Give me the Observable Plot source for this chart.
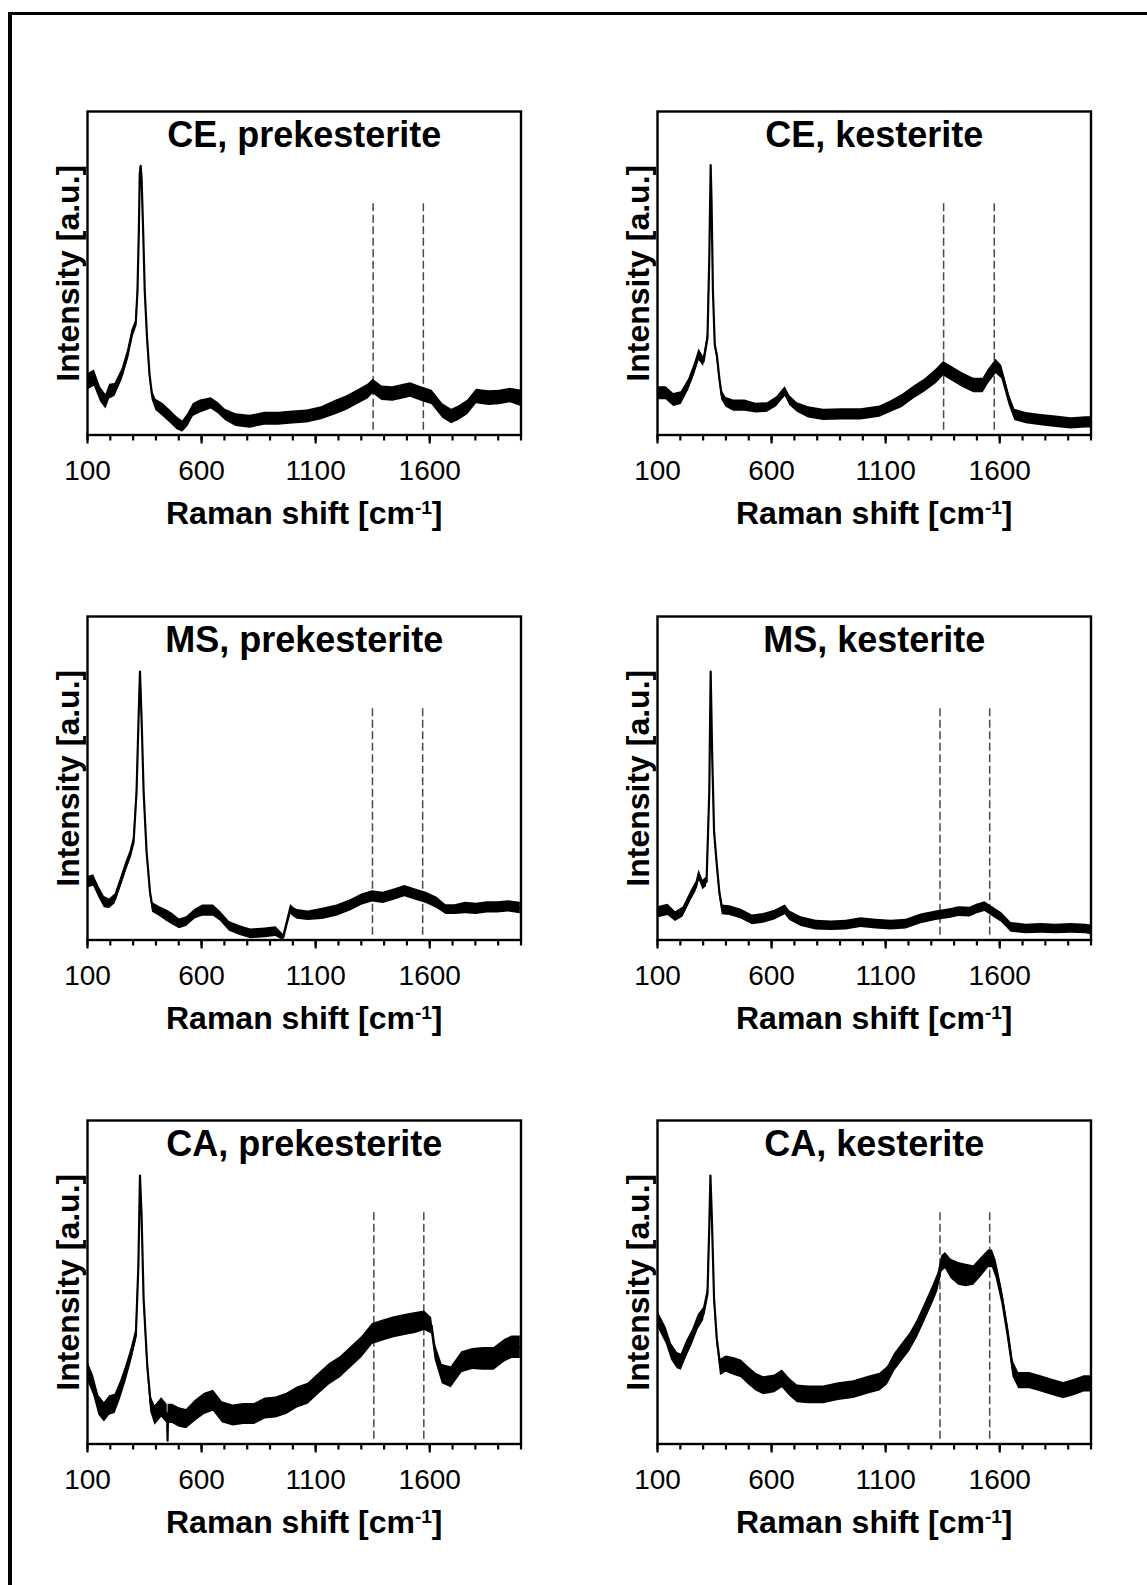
<!DOCTYPE html>
<html>
<head>
<meta charset="utf-8">
<script src="https://cdn.jsdelivr.net/npm/d3@7"></script>
<script src="https://cdn.jsdelivr.net/npm/@observablehq/plot@0.6"></script>
<style>
  html, body { margin: 0; padding: 0; background: #fff; }
  #fig { position: relative; width: 1147px; height: 1585px; overflow: hidden; background: #fff; }
  .edge { position: absolute; background: #000; z-index: 5; }
  .panel { position: absolute; }
</style>
</head>
<body>
<div id="fig">
  <div class="edge" style="left:8px;top:11.5px;width:1139px;height:3px;"></div>
  <div class="edge" style="left:8px;top:11.5px;width:3.5px;height:1574px;"></div>
</div>
<script>
// ---------- data ----------
const titles = ["CE, prekesterite", "CE, kesterite", "MS, prekesterite", "MS, kesterite", "CA, prekesterite", "CA, kesterite"];
const yLabel = "Intensity [a.u.]";
const xLabelParts = ["Raman shift [cm", "-1", "]"];
const majorTicks = [100, 600, 1100, 1600];
const minorTicks = [100,200,300,400,500,600,700,800,900,1000,1100,1200,1300,1400,1500,1600,1700,1800,1900,2000];
const dashSpan = [1.5, 72];

// CE, prekesterite
const shiftCEpre = [103,130,158,181,197,220,251,275,295,311,319,325,329,333,337,344,351,361,372,383,400,431,462,493,517,540,564,595,642,673,704,751,813,876,938,1000,1063,1126,1188,1235,1282,1329,1352,1391,1438,1485,1516,1563,1610,1657,1696,1727,1766,1805,1859,1906,1953,1998];
const intCEpre = [16.5,17.6,12.4,10.3,13.4,13.9,18.6,24.3,31.0,34.1,44.4,63.0,80.6,83.2,79.5,63.0,44.4,30.0,18.6,12.4,9.3,7.7,5.7,3.6,2.6,4.6,7.7,8.8,9.8,8.3,6.2,4.6,4.1,5.0,5.0,5.4,5.7,6.7,8.5,9.8,11.6,13.4,15.0,12.9,12.7,13.4,13.9,12.7,11.6,7.4,5.7,6.7,8.5,11.9,11.4,11.6,12.2,11.4];
const noiseCEpre = [5,5,4.5,4.5,4.5,4,3.5,3.5,3,2.5,1.5,0.5,0.5,0.5,0.5,0.5,0.5,1,2,3,3.5,4,4,4,3.5,4,4,4,3.5,3.5,3.5,4,4,4,4,4,4,4,4.5,4.5,4.5,4.5,4.5,4.5,4.5,4.5,4.5,4.5,4.5,4.5,4.5,4.5,4.5,4.5,4.5,4.5,4.5,5];
const dashCEpre = [1352, 1572];

// CE, kesterite
const shiftCEkes = [105,138,171,204,236,261,282,302,319,327,333,337,343,351,360,371,381,401,434,483,532,582,623,647,660,680,713,762,828,910,992,1075,1124,1173,1223,1272,1321,1354,1387,1436,1486,1527,1551,1584,1609,1642,1666,1716,1781,1847,1913,1979,1998];
const intCEkes = [12.9,12.9,10.8,11.4,15.5,20.1,24.8,22.7,30.0,54.8,83.4,72.0,44.4,27.9,24.8,17.6,12.4,10.1,9.1,9.1,8.3,8.5,10.3,12.4,13.4,10.6,8.5,7.0,6.2,6.4,6.4,7.2,8.8,10.5,13.1,15.3,18.1,20.5,19.1,17.0,15.3,15.3,18.1,21.2,19.4,10.8,6.2,5.2,4.6,4.1,3.6,3.9,3.9];
const noiseCEkes = [4,4,4,4,3.5,3.5,3.5,3,2.5,0.5,0.5,0.5,0.5,1.5,2.5,2,3,3,3.5,3.5,3,3,3,3,3,3,3,3.5,3.5,3.5,3.5,3.5,3.5,4,4,4,4.5,4.5,4.5,4.5,4.5,4.5,4.5,4.5,4,3.5,3.5,3.5,3.5,3.5,3.5,3.5,3.5];
const dashCEkes = [1354, 1576];

// MS, prekesterite
const shiftMSpre = [103,127,150,174,197,221,244,268,287,302,315,323,330,337,346,359,374,385,417,448,472,503,534,573,605,652,683,722,769,816,879,926,958,973,990,1005,1020,1067,1130,1193,1255,1302,1349,1396,1444,1491,1538,1585,1632,1671,1710,1757,1804,1851,1898,1945,1997];
const intMSpre = [17.9,18.4,14.8,11.7,11.2,12.7,17.4,22.5,26.1,30.3,45.8,66.4,83.0,68.5,45.8,27.2,14.8,10.1,8.8,7.5,6.5,5.0,5.7,8.1,9.1,9.1,7.3,4.2,2.9,1.9,2.2,2.6,0.8,5.0,9.5,8.5,7.9,7.5,8.1,9.1,10.8,12.5,13.5,13.0,14.0,15.1,14.0,13.0,11.5,9.4,9.4,9.9,9.6,10.1,10.1,10.4,9.9];
const noiseMSpre = [3.5,3.5,3.5,3.5,3,3,3,3,3,3,1.5,0.5,0.5,0.5,0.5,1,2,3,3,3.5,3.5,3,3,3,3.5,3.5,3,3,3,3,3,3,2,2,3,3,3,3,3.5,3.5,3.5,3.5,3.5,3.5,3.5,3.5,3.5,3.5,3.5,3,3,3.5,3.5,3.5,3.5,3.5,3.5];
const dashMSpre = [1349, 1569];

// MS, kesterite
const shiftMSkes = [105,146,179,212,245,269,282,299,315,327,333,340,348,360,371,384,417,467,516,565,614,660,680,730,795,861,927,992,1058,1124,1190,1255,1321,1387,1420,1469,1502,1535,1568,1609,1650,1716,1781,1847,1913,1979,1998];
const intMSkes = [8.6,9.3,7.2,8.6,13.4,16.5,20.1,17.0,18.0,45.9,83.0,56.2,33.5,23.2,14.9,9.3,9.1,8.0,6.2,6.7,7.7,9.3,7.5,5.7,4.6,4.4,4.6,5.4,4.9,4.6,4.9,6.5,7.5,8.2,8.8,8.6,9.6,10.3,8.8,6.9,3.9,3.4,3.6,3.4,3.6,3.4,3.1];
const noiseMSkes = [3.5,3.5,3,3,3,3,3,3,3,1,0.5,0.5,1,2,2.5,3,3,3,3,3,3,3,3,3,3,3,3,3,3,3,3,3,3,3,3,3,3,3,3,3,3,3,3,3,3,3,3];
const dashMSkes = [1338, 1556];

// CA, prekesterite
const shiftCApre = [103,127,150,174,197,221,244,268,291,312,323,330,337,346,362,377,396,425,449,451,453,472,503,534,573,613,652,691,738,785,832,879,926,973,1020,1067,1114,1161,1208,1255,1302,1349,1396,1444,1491,1538,1577,1608,1624,1655,1694,1741,1788,1835,1882,1930,1961,1997];
const intCApre = [22.2,18.0,11.9,9.8,11.9,12.4,16.5,21.6,27.3,33.5,55.2,83.0,70.6,44.8,24.2,12.4,8.8,11.3,9.3,1.0,9.3,9.3,8.2,7.7,10.3,12.4,13.4,9.8,8.8,9.3,9.3,11.0,11.3,12.4,14.4,15.5,18.6,21.6,23.7,26.8,29.9,34.0,35.1,36.1,36.8,37.4,38.1,36.6,28.4,21.6,20.6,25.3,26.3,26.3,26.3,28.9,29.9,29.9];
const noiseCApre = [6,6,6,6,6,6,5.5,5,4.5,4,2,0.5,0.5,1,3,5,6,6,6,1,6,6,6,6,6.5,6.5,6.5,6.5,6.5,6.5,6.5,6.5,6.5,6.5,6.5,6.5,6.5,6.5,6.5,6.5,6.5,6.5,6.5,6.5,6.5,6.5,6,5,5,6,6.5,6.5,6.5,7,7,7,7,7];
const dashCApre = [1355, 1574];

// CA, kesterite
const shiftCAkes = [105,138,162,187,204,228,253,278,302,319,327,332,338,348,360,376,401,434,467,499,532,565,614,647,680,713,762,828,894,960,1025,1075,1108,1140,1173,1206,1239,1272,1305,1329,1346,1362,1387,1420,1453,1486,1518,1551,1568,1584,1609,1633,1658,1683,1732,1781,1831,1880,1929,1970,1998];
const intCAkes = [38.1,33.5,28.4,25.8,25.3,29.4,33.0,37.6,40.2,46.4,67.5,83.0,70.6,44.8,32.5,23.7,24.7,24.0,23.2,21.1,19.1,18.0,18.6,20.1,17.5,15.5,15.2,15.2,16.2,16.8,18.2,19.1,21.1,25.3,28.4,31.4,35.6,40.7,45.9,50.0,55.7,56.7,54.1,52.6,52.1,52.1,54.6,57.2,57.2,54.1,45.9,35.6,23.2,19.6,19.6,18.6,17.5,16.5,17.5,18.6,18.6];
const noiseCAkes = [5,5,5,5,5,5,4.5,4.5,4,3,1,0.5,0.5,1,3,5,5,5.5,5.5,5.5,5.5,5.5,5.5,5.5,5.5,5.5,5.5,5.5,5.5,5.5,5.5,5.5,5.5,5.5,5.5,5.5,5.5,5.5,5.5,5.5,5,5,6,7,7,6,6,5.5,5.5,5.5,5,5,5,5,5,5,5,5,5,5,5];
const dashCAkes = [1338, 1556];

// ---------- layout ----------
const panels = [
  {title: titles[0], shift: shiftCEpre, intensity: intCEpre, noise: noiseCEpre, dash: dashCEpre, col: 0, row: 0},
  {title: titles[1], shift: shiftCEkes, intensity: intCEkes, noise: noiseCEkes, dash: dashCEkes, col: 1, row: 0},
  {title: titles[2], shift: shiftMSpre, intensity: intMSpre, noise: noiseMSpre, dash: dashMSpre, col: 0, row: 1},
  {title: titles[3], shift: shiftMSkes, intensity: intMSkes, noise: noiseMSkes, dash: dashMSkes, col: 1, row: 1},
  {title: titles[4], shift: shiftCApre, intensity: intCApre, noise: noiseCApre, dash: dashCApre, col: 0, row: 2},
  {title: titles[5], shift: shiftCAkes, intensity: intCAkes, noise: noiseCAkes, dash: dashCAkes, col: 1, row: 2}
];
const colLeft = [0, 569.5];
const rowTop = [91, 595.5, 1100];
const FONT = "'Liberation Sans', Arial, Helvetica, sans-serif";
const xLabel = xLabelParts.join("");

function makePanel(p) {
  const data = p.shift.map((x, i) => ({
    x, y: p.intensity[i],
    lo: p.intensity[i] - p.noise[i] / 2,
    hi: p.intensity[i] + p.noise[i] / 2
  }));
  const dashes = p.dash.map(x => ({x, y1: dashSpan[0], y2: dashSpan[1]}));
  const svg = Plot.plot({
    width: 560, height: 454,
    marginLeft: 87, marginRight: 39.5, marginTop: 20, marginBottom: 110.5,
    x: {domain: [100, 2000]},
    y: {domain: [0, 100], axis: null},
    style: {fontFamily: FONT, background: "transparent", color: "black", overflow: "visible"},
    marks: [
      Plot.ruleX(dashes, {x: "x", y1: "y1", y2: "y2", stroke: "#4a4a4a", strokeWidth: 1.5, strokeDasharray: "8,3.5"}),
      Plot.areaY(data, {x: "x", y1: "lo", y2: "hi", fill: "black", clip: true}),
      Plot.line(data, {x: "x", y: "y", stroke: "black", strokeWidth: 2.2, strokeLinejoin: "round", clip: true}),
      Plot.frame({stroke: "black", strokeWidth: 2.4}),
      Plot.axisX({ticks: minorTicks, tickSize: 6, strokeWidth: 2.2, tickFormat: () => "", label: null}),
      Plot.axisX({ticks: majorTicks, tickSize: 9, strokeWidth: 2.2, tickPadding: 16, fontSize: 28, label: null, tickFormat: d => String(d)}),
      Plot.text([p.title], {text: d => d, frameAnchor: "top", dy: 35.7, lineAnchor: "bottom", textAnchor: "middle", fontSize: 36, fontWeight: "bold", fill: "black"}),
      Plot.text([yLabel], {text: d => d, frameAnchor: "left", dx: -9, rotate: -90, lineAnchor: "bottom", textAnchor: "middle", fontSize: 32, fontWeight: "bold", fill: "black"}),
      Plot.text([xLabel], {text: d => d, frameAnchor: "bottom", dy: 89, lineAnchor: "bottom", textAnchor: "middle", fontSize: 32, fontWeight: "bold", fill: "black"})
    ]
  });
  // superscript for cm-1
  const ns = "http://www.w3.org/2000/svg";
  svg.querySelectorAll("text").forEach(t => {
    if (t.textContent === xLabel) {
      t.textContent = "";
      const a = document.createElementNS(ns, "tspan"); a.textContent = xLabelParts[0];
      const b = document.createElementNS(ns, "tspan"); b.textContent = xLabelParts[1];
      b.setAttribute("font-size", "19"); b.setAttribute("dy", "-10");
      const c = document.createElementNS(ns, "tspan"); c.textContent = xLabelParts[2];
      c.setAttribute("dy", "10");
      t.append(a, b, c);
    }
  });
  const div = document.createElement("div");
  div.className = "panel";
  div.style.left = colLeft[p.col] + "px";
  div.style.top = rowTop[p.row] + "px";
  div.appendChild(svg);
  document.getElementById("fig").appendChild(div);
}
panels.forEach(makePanel);
</script>
</body>
</html>
